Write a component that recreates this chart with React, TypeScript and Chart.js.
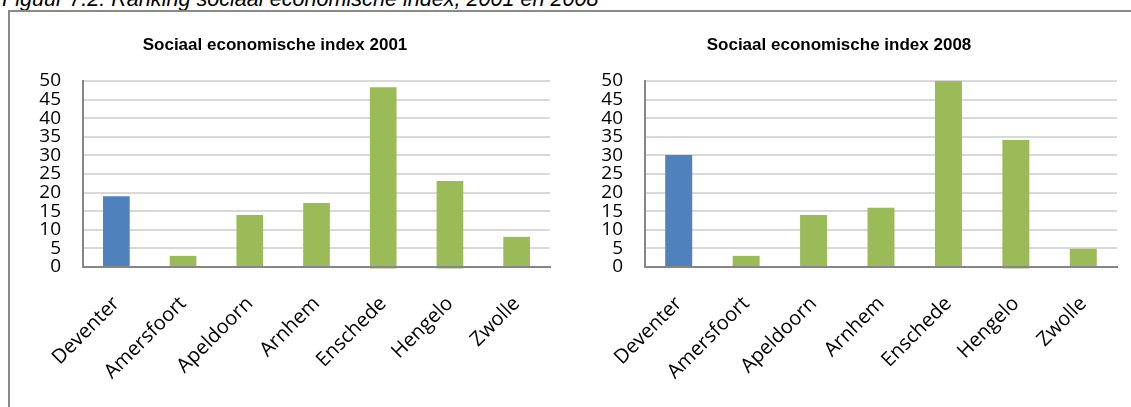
import React, { useEffect, useRef } from "react";
import { Chart, registerables } from "chart.js";

Chart.register(...registerables);

const categories = ["Deventer", "Amersfoort", "Apeldoorn", "Arnhem", "Enschede", "Hengelo", "Zwolle"];
const values2001 = [19, 3, 14, 17.2, 48.3, 23.1, 8.1];
const lows2001 = [0, 0, 0, 0, -0.4, -0.4, 0];
const values2008 = [30.1, 3, 14, 15.9, 50, 34.1, 4.9];
const lows2008 = [0, 0, 0, 0, 0, -0.4, 0];
const yTicks = [0, 5, 10, 15, 20, 25, 30, 35, 40, 45, 50];
const title2001 = "Sociaal economische index 2001";
const title2008 = "Sociaal economische index 2008";
const caption = "Figuur 7.2: Ranking sociaal economische index, 2001 en 2008";

const BLUE = "#4F81BD";
const GREEN = "#9BBB59";

function BarChart(props: {
  title: string;
  values: number[];
  lows: number[];
  left: number;
  width: number;
  yAxisWidth: number;
  padRight: number;
}) {
  const ref = useRef<HTMLCanvasElement | null>(null);
  useEffect(() => {
    if (!ref.current) return;
    const chart = new Chart(ref.current, {
      type: "bar",
      data: {
        labels: categories,
        datasets: [
          {
            data: props.values.map((v, i) => [props.lows[i], v]) as any,
            backgroundColor: categories.map((_, i) => (i === 0 ? BLUE : GREEN)),
            borderWidth: 0,
            barPercentage: 0.4,
            categoryPercentage: 1,
            clip: false as any,
          },
        ],
      },
      options: {
        responsive: false,
        animation: false,
        devicePixelRatio: 1,
        layout: { padding: { left: 0, right: props.padRight, top: 0, bottom: 0 } },
        plugins: {
          legend: { display: false },
          tooltip: { enabled: false },
          title: {
            display: true,
            text: props.title,
            color: "#000",
            font: { family: "'Liberation Sans', Arial, sans-serif", size: 17, weight: "bold" },
            padding: { top: 35, bottom: 25.5 },
          },
        },
        scales: {
          x: {
            grid: { display: false },
            border: { display: true, color: "#868686", width: 2, z: 1 },
            ticks: {
              color: "#000",
              font: { family: "'Open Sans', sans-serif", size: 20 },
              minRotation: 45,
              maxRotation: 45,
              autoSkip: false,
              padding: 17,
            },
            afterFit: (scale: any) => {
              scale.height = 140;
            },
          },
          y: {
            min: 0,
            max: 50,
            grid: { color: "#d9d9d9", lineWidth: 2, drawTicks: false },
            border: { display: true, color: "#868686", width: 2 },
            afterBuildTicks: (scale: any) => {
              scale.ticks = yTicks.map((v) => ({ value: v }));
            },
            ticks: {
              color: "#000",
              font: { family: "'Open Sans', sans-serif", size: 19 },
              autoSkip: false,
              padding: 22,
            },
            afterFit: (scale: any) => {
              scale.width = props.yAxisWidth;
            },
          },
        },
      },
    });
    return () => chart.destroy();
  }, []);
  return (
    <canvas
      ref={ref}
      width={props.width}
      height={407}
      style={{ position: "absolute", left: props.left, top: 0, width: props.width, height: 407 }}
    />
  );
}

export default function App() {
  return (
    <div
      style={{
        position: "fixed",
        left: 0,
        top: 0,
        width: 1131,
        height: 407,
        overflow: "hidden",
        background: "#fff",
      }}
    >
      <div
        style={{
          position: "absolute",
          left: 2,
          top: -12,
          fontFamily: "'Liberation Sans', Arial, sans-serif",
          fontStyle: "italic",
          fontSize: 21.6,
          lineHeight: 1,
          whiteSpace: "nowrap",
          color: "#000",
        }}
      >
        {caption}
      </div>
      <div
        style={{
          position: "absolute",
          left: 8,
          top: 10,
          width: 1200,
          height: 500,
          borderLeft: "2px solid #8a8a8a",
          borderTop: "2px solid #8a8a8a",
        }}
      />
      <BarChart title={title2001} values={values2001} lows={lows2001} left={0} width={556} yAxisWidth={83} padRight={6} />
      <BarChart title={title2008} values={values2008} lows={lows2008} left={561} width={570} yAxisWidth={84} padRight={14} />
    </div>
  );
}
